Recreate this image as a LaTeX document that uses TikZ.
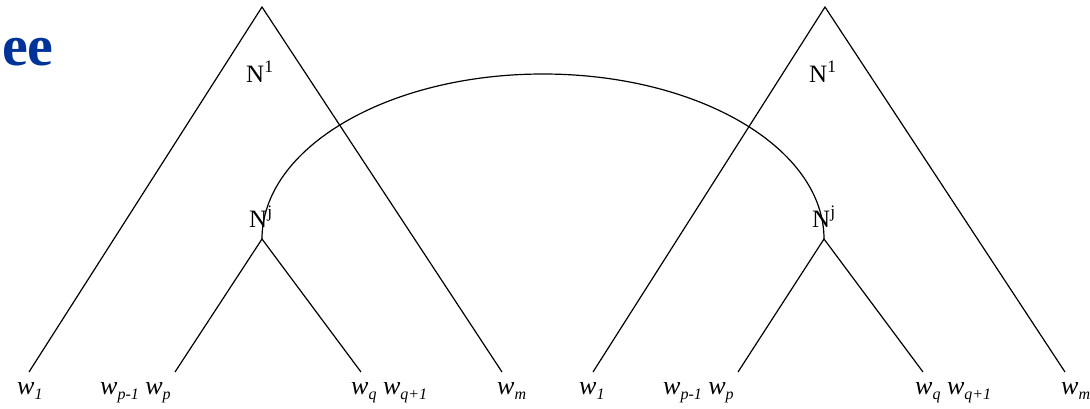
\documentclass[tikz,border=0pt]{standalone}
\usepackage{fontspec}
\setmainfont{Liberation Serif}
\usepackage{xcolor}
\definecolor{titleblue}{RGB}{0,51,153}
\usetikzlibrary{positioning}
\newcommand{\wsub}[1]{\raisebox{-5pt}{\fontsize{16}{16}\selectfont #1}}

\begin{document}
\begin{tikzpicture}[x=1pt, y=-1pt,
  edge/.style={line width=1.2pt},
  cat/.style={font=\fontsize{25}{25}\selectfont, inner sep=0pt, anchor=base west},
  word/.style={font=\fontsize{26}{26}\selectfont\itshape, inner sep=0pt, anchor=base west},
]
\useasboundingbox (0,0) rectangle (1090,408);

\node[font=\fontsize{58}{58}\selectfont\bfseries, text=titleblue, inner sep=0pt, anchor=base west] (title) at (2,65) {ee};

% left tree
\coordinate (aTop) at (262,7);
\coordinate (aL) at (29,372);
\coordinate (aR) at (502,372);
\coordinate (aJ) at (262,239);
\coordinate (aJL) at (175,372);
\coordinate (aJR) at (361,372);
\draw[edge] (aL) -- (aTop) -- (aR);
\draw[edge] (aJL) -- (aJ) -- (aJR);
\node[cat] (aN1) at (246,82) {N\textsuperscript{1}};
\node[cat] (aNj) at (249,227) {N\textsuperscript{j}};

% right tree
\coordinate (bTop) at (825,7);
\coordinate (bL) at (593,372);
\coordinate (bR) at (1065,372);
\coordinate (bJ) at (824,239);
\coordinate (bJL) at (738,372);
\coordinate (bJR) at (923,372);
\draw[edge] (bL) -- (bTop) -- (bR);
\draw[edge] (bJL) -- (bJ) -- (bJR);
\node[cat] (bN1) at (809,82) {N\textsuperscript{1}};
\node[cat] (bNj) at (812,227) {N\textsuperscript{j}};

% arc linking the two N^j
\draw[edge] (aJ) arc[start angle=180, end angle=360, x radius=281, y radius=165];

% words
\node[word] (aw1) at (17,394) {w\wsub{1}};
\node[word] (awp) at (100,394) {w\wsub{p-1} w\wsub{p}};
\node[word] (awq) at (351,394) {w\wsub{q} w\wsub{q+1}};
\node[word] (awm) at (497,394) {w\wsub{m}};
\node[word] (bw1) at (579,394) {w\wsub{1}};
\node[word] (bwp) at (663,394) {w\wsub{p-1} w\wsub{p}};
\node[word] (bwq) at (915,394) {w\wsub{q} w\wsub{q+1}};
\node[word] (bwm) at (1061,394) {w\wsub{m}};
\end{tikzpicture}
\end{document}
